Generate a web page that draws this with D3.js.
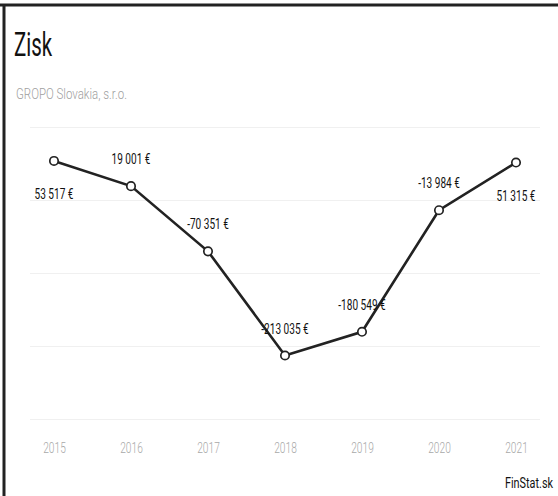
<!DOCTYPE html>
<html><head><meta charset="utf-8">
<script src="https://cdn.jsdelivr.net/npm/d3@7/dist/d3.min.js"></script>
<style>body{margin:0;background:#fff}svg{display:block}text{font-family:Roboto,"Liberation Sans",sans-serif}</style>
</head><body><svg id="c" width="558" height="496"></svg>
<script>
const years = ["2015","2016","2017","2018","2019","2020","2021"];
const profit = [53517, 19001, -70351, -213035, -180549, -13984, 51315];
const labels = ["53 517 €","19 001 €","-70 351 €","-213 035 €","-180 549 €","-13 984 €","51 315 €"];
const gridTicks = [100000, 0, -100000, -200000, -300000];

const svg = d3.select("#c");
const x = d3.scalePoint().domain(years).range([54, 516]);
const y = d3.scaleLinear().domain([-300000, 100000]).range([419, 127]);

function ctext(parent, px, py, sx, size, fill, str, anchor){
  return parent.append("text")
    .attr("transform", `translate(${px},${py}) scale(${sx},1)`)
    .attr("font-size", size).attr("fill", fill)
    .attr("text-anchor", anchor || "start").text(str);
}

// frame
svg.append("line").attr("x1",0).attr("x2",558).attr("y1",5).attr("y2",5).attr("stroke","#222").attr("stroke-width",3);
svg.append("line").attr("x1",4).attr("x2",4).attr("y1",4).attr("y2",496).attr("stroke","#222").attr("stroke-width",3);

ctext(svg, 14, 56, 0.62, 33, "#111", "Zisk");
ctext(svg, 16, 99, 0.82, 14, "#a0a0a0", "GROPO Slovakia, s.r.o.").attr("font-weight",300);

// grid
const yAxis = d3.axisLeft(y).tickValues(gridTicks).tickSize(-510).tickFormat("");
const g = svg.append("g").attr("transform","translate(30,0)").call(yAxis);
g.select(".domain").remove();
g.selectAll(".tick line").attr("stroke","#f0f0f0");

// x axis labels
const xAxis = d3.axisBottom(x).tickSize(0).tickPadding(0);
const xg = svg.append("g").attr("transform","translate(0,442)").call(xAxis);
xg.select(".domain").remove();
xg.selectAll("text").attr("font-size",15).attr("fill","#a8a8a8").attr("font-weight",300)
  .attr("font-family","Roboto, sans-serif").attr("transform","scale(0.68,1)");

const data = years.map((yr,i)=>({yr, v:profit[i], lab:labels[i]}));

svg.append("path").datum(data)
  .attr("d", d3.line().x(d=>x(d.yr)).y(d=>y(d.v)))
  .attr("fill","none").attr("stroke","#222").attr("stroke-width",2.6);

svg.selectAll("circle.pt").data(data).join("circle").attr("class","pt")
  .attr("cx",d=>x(d.yr)).attr("cy",d=>y(d.v)).attr("r",4.2)
  .attr("fill","#fff").attr("stroke","#222").attr("stroke-width",1.7);

data.forEach(d=>{
  const py = y(d.v) < 170 ? y(d.v)+38 : y(d.v)-22;
  ctext(svg, x(d.yr), py, 0.72, 14, "#111", d.lab, "middle");
});

ctext(svg, 553, 488, 0.75, 14.5, "#111", "FinStat.sk", "end");
</script></body></html>
